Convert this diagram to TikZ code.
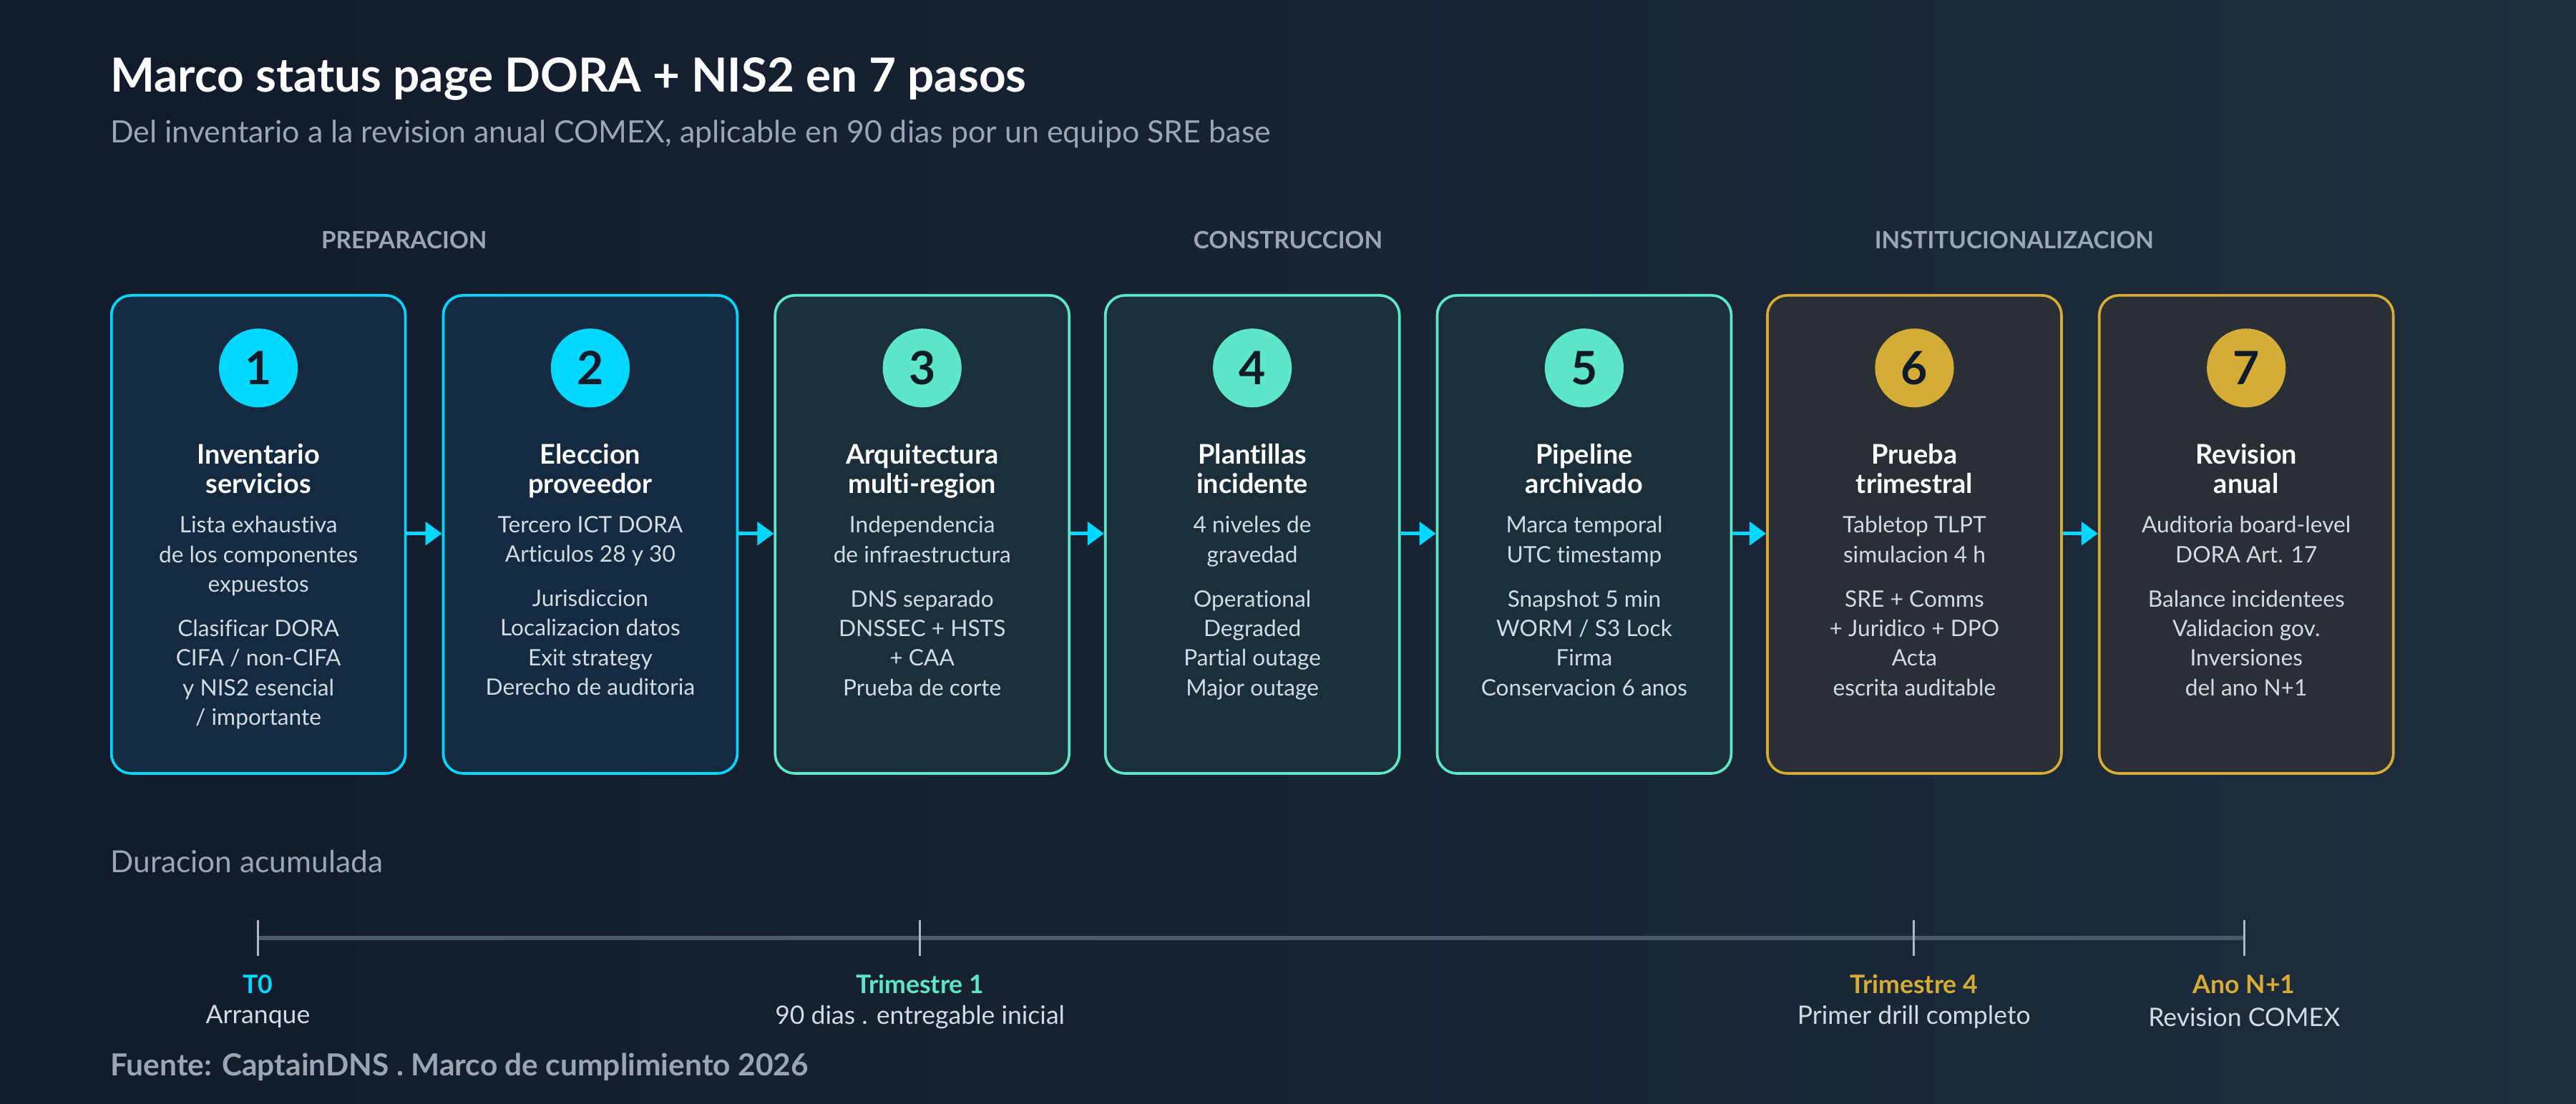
\documentclass[tikz,border=0pt]{standalone}
\usepackage{fontspec}
\setmainfont{Lato}[Ligatures={NoCommon}]
\usetikzlibrary{calc,positioning,arrows.meta}
\definecolor{bgA}{HTML}{111A2B}
\definecolor{bgB}{HTML}{1E2C3C}
\definecolor{cyanc}{HTML}{00D8FF}
\definecolor{tealc}{HTML}{5EE6CC}
\definecolor{goldc}{HTML}{D4AC36}
\definecolor{fillA}{HTML}{132A40}
\definecolor{fillB}{HTML}{1A2F3A}
\definecolor{fillC}{HTML}{2A2E35}
\definecolor{greyt}{HTML}{98A6B6}
\definecolor{bodyt}{HTML}{D2DAE4}
\definecolor{darkn}{HTML}{0F1A2A}
\definecolor{linec}{HTML}{4A5A6C}

\begin{document}
\begin{tikzpicture}[x=1pt,y=-1pt]

\tikzset{stepbox/.style={draw=#1,line width=1.6pt,rounded corners=12pt,minimum width=179pt,minimum height=291pt,inner sep=0pt,anchor=north west},
numnode/.style={circle,fill=#1,minimum size=48pt,inner sep=0pt,text=darkn,font=\bfseries\fontsize{28}{28}\selectfont},
titlenode/.style={anchor=north,inner sep=0pt,align=center,text=white,font=\bfseries\fontsize{16.5}{18}\selectfont},
bodynode/.style={anchor=north,inner sep=0pt,align=center,text=bodyt,font=\fontsize{13.8}{18}\selectfont},
phase/.style={text=greyt,font=\bfseries\fontsize{14.5}{15}\selectfont},
link/.style={cyanc,line width=2.2pt,-{Triangle[length=10pt,width=14pt]}},
tick/.style={draw=greyt!80,line width=1.4pt},
milestone/.style={font=\bfseries\fontsize{15.5}{16}\selectfont},
milesub/.style={text=bodyt,font=\fontsize{15.5}{16}\selectfont}}

% Background
\shade[shading angle=120,left color=bgA,right color=bgB] (0,0) rectangle (1568,672);
\useasboundingbox (0,0) rectangle (1568,672);

% Titles
\node[anchor=base west,inner sep=0pt,text=white,font=\bfseries\fontsize{28.6}{30}\selectfont] (title) at (67,56) {Marco status page DORA + NIS2 en 7 pasos};
\node[anchor=base west,inner sep=0pt,text=greyt,font=\fontsize{18.7}{20}\selectfont] (subtitle) at (67,87) {Del inventario a la revision anual COMEX, aplicable en 90 dias por un equipo SRE base};

% Phases
\node[phase] (ph1) at (246,146) {PREPARACION};
\node[phase] (ph2) at (784,146) {CONSTRUCCION};
\node[phase] (ph3) at (1226,146) {INSTITUCIONALIZACION};

% Step boxes
\node[stepbox=cyanc,fill=fillA] (s1) at (67,179) {};
\node[stepbox=cyanc,fill=fillA] (s2) at (269,179) {};
\node[stepbox=tealc,fill=fillB] (s3) at (471,179) {};
\node[stepbox=tealc,fill=fillB] (s4) at (672,179) {};
\node[stepbox=tealc,fill=fillB] (s5) at (874,179) {};
\node[stepbox=goldc,fill=fillC] (s6) at (1075,179) {};
\node[stepbox=goldc,fill=fillC] (s7) at (1277,179) {};

% Numbers
\node[numnode=cyanc] (n1) at ($(s1.north)+(0,45)$) {1};
\node[numnode=cyanc] (n2) at ($(s2.north)+(0,45)$) {2};
\node[numnode=tealc] (n3) at ($(s3.north)+(0,45)$) {3};
\node[numnode=tealc] (n4) at ($(s4.north)+(0,45)$) {4};
\node[numnode=tealc] (n5) at ($(s5.north)+(0,45)$) {5};
\node[numnode=goldc] (n6) at ($(s6.north)+(0,45)$) {6};
\node[numnode=goldc] (n7) at ($(s7.north)+(0,45)$) {7};

% Step titles
\node[titlenode] (t1) at ($(s1.north)+(0,91)$) {Inventario\\servicios};
\node[titlenode] (t2) at ($(s2.north)+(0,91)$) {Eleccion\\proveedor};
\node[titlenode] (t3) at ($(s3.north)+(0,91)$) {Arquitectura\\multi-region};
\node[titlenode] (t4) at ($(s4.north)+(0,91)$) {Plantillas\\incidente};
\node[titlenode] (t5) at ($(s5.north)+(0,91)$) {Pipeline\\archivado};
\node[titlenode] (t6) at ($(s6.north)+(0,91)$) {Prueba\\trimestral};
\node[titlenode] (t7) at ($(s7.north)+(0,91)$) {Revision\\anual};

% Step details
\node[bodynode] (b1) at ($(s1.north)+(0,135)$) {Lista exhaustiva\\de los componentes\\expuestos\\[9pt]Clasificar DORA\\CIFA / non-CIFA\\y NIS2 esencial\\/ importante};
\node[bodynode] (b2) at ($(s2.north)+(0,135)$) {Tercero ICT DORA\\Articulos 28 y 30\\[9pt]Jurisdiccion\\Localizacion datos\\Exit strategy\\Derecho de auditoria};
\node[bodynode] (b3) at ($(s3.north)+(0,135)$) {Independencia\\de infraestructura\\[9pt]DNS separado\\DNSSEC + HSTS\\+ CAA\\Prueba de corte};
\node[bodynode] (b4) at ($(s4.north)+(0,135)$) {4 niveles de\\gravedad\\[9pt]Operational\\Degraded\\Partial outage\\Major outage};
\node[bodynode] (b5) at ($(s5.north)+(0,135)$) {Marca temporal\\UTC timestamp\\[9pt]Snapshot 5 min\\WORM / S3 Lock\\Firma\\Conservacion 6 anos};
\node[bodynode] (b6) at ($(s6.north)+(0,135)$) {Tabletop TLPT\\simulacion 4 h\\[9pt]SRE + Comms\\+ Juridico + DPO\\Acta\\escrita auditable};
\node[bodynode] (b7) at ($(s7.north)+(0,135)$) {Auditoria board-level\\DORA Art. 17\\[9pt]Balance incidentees\\Validacion gov.\\Inversiones\\del ano N+1};

% Links
\foreach \a/\b in {s1/s2,s2/s3,s3/s4,s4/s5,s5/s6,s6/s7}
  \draw[link] ($(\a.east)+(0,-0.5)$) -- ($(\b.west)+(0,-0.5)$);

% Timeline
\node[anchor=base west,inner sep=0pt,text=greyt,font=\fontsize{18.5}{20}\selectfont] (durlabel) at (67,531) {Duracion acumulada};
\coordinate (m1) at (157,571);
\coordinate (m2) at (560,571);
\coordinate (m3) at (1165,571);
\coordinate (m4) at (1366,571);
\draw[linec,line width=2.4pt] (m1) -- (m4);
\foreach \m in {m1,m2,m3,m4} \draw[tick] ($(\m)+(0,-11)$) -- ($(\m)+(0,11)$);

\node[milestone,text=cyanc] (ml1) at ($(m1)+(0,28)$) {T0};
\node[milestone,text=tealc] (ml2) at ($(m2)+(0,28)$) {Trimestre 1};
\node[milestone,text=goldc] (ml3) at ($(m3)+(0,28)$) {Trimestre 4};
\node[milestone,text=goldc] (ml4) at ($(m4)+(0,28)$) {Ano N+1};
\node[milesub] (ms1) at ($(m1)+(0,48)$) {Arranque};
\node[milesub] (ms2) at ($(m2)+(0,48)$) {90 dias . entregable inicial};
\node[milesub] (ms3) at ($(m3)+(0,48)$) {Primer drill completo};
\node[milesub] (ms4) at ($(m4)+(0,48)$) {Revision COMEX};

% Source
\node[anchor=base west,inner sep=0pt,text=greyt,font=\bfseries\fontsize{18.5}{20}\selectfont] (source) at (67,655) {Fuente: CaptainDNS . Marco de cumplimiento 2026};

\end{tikzpicture}
\end{document}
